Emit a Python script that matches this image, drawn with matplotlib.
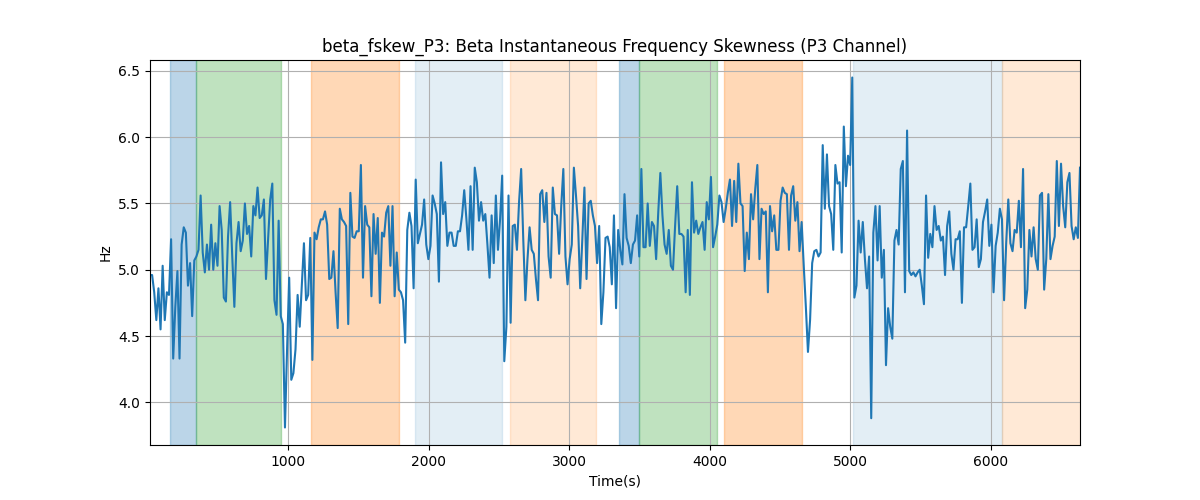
import numpy as np
import matplotlib
matplotlib.use('Agg')
import matplotlib.pyplot as plt

# sampled every 15 s
t_start = 18
t_step = 15

fskew = [
    # 0 - 850 s
    4.96, 4.96, 4.83, 4.62, 4.86, 4.55, 5.03, 4.62, 4.83, 4.81, 5.23, 4.33, 4.72, 4.99, 4.33, 5.19,
    5.32, 5.28, 4.88, 5.05, 4.65, 5.07, 5.10, 5.15, 5.56, 5.13, 4.98, 5.19, 5.00, 5.34, 5.00, 5.20,
    5.03, 5.48, 5.30, 4.79, 4.76, 5.25, 5.51, 5.10, 4.72, 5.20, 5.36, 5.14, 5.22, 5.50, 5.27, 5.33,
    5.10, 5.48, 5.41, 5.62, 5.39, 5.41, 5.53, 4.93,
    # 850 - 1680 s
    5.23, 5.53, 5.65, 4.77, 4.66, 5.37, 4.65, 4.59, 3.81, 4.40, 4.94, 4.17, 4.22, 4.40, 4.81, 4.57,
    4.88, 5.20, 4.77, 4.81, 5.24, 4.32, 5.28, 5.23, 5.32, 5.38, 5.38, 5.44, 5.34, 4.93, 4.94, 5.14,
    4.83, 4.56, 5.46, 5.38, 5.36, 5.33, 4.59, 5.58, 5.25, 5.24, 5.29, 5.29, 5.79, 4.94, 5.48, 5.34,
    5.32, 4.80, 5.42, 5.12, 5.39, 4.75, 5.28, 5.25,
    # 1680 - 2510 s
    5.43, 5.48, 5.03, 5.48, 4.80, 5.13, 4.85, 4.83, 4.77, 4.45, 5.30, 5.43, 5.33, 4.86, 5.68, 5.20,
    5.27, 5.34, 5.53, 5.19, 5.08, 5.18, 5.56, 5.50, 5.42, 4.91, 5.81, 5.42, 5.51, 5.18, 5.28, 5.28,
    5.18, 5.18, 5.29, 5.29, 5.41, 5.60, 5.39, 5.15, 5.63, 5.15, 5.77, 5.66, 5.37, 5.51, 5.37, 5.42,
    5.19, 4.94, 5.41, 5.05, 5.56, 5.15, 5.38,
    # 2510 - 3340 s
    5.71, 4.31, 4.57, 5.56, 4.60, 5.33, 5.34, 5.15, 5.51, 5.76, 5.23, 4.77, 5.08, 5.32, 5.15, 5.12,
    4.93, 4.77, 5.57, 5.60, 5.36, 5.58, 5.10, 4.94, 5.62, 5.42, 5.41, 5.12, 5.48, 5.76, 5.10, 4.89,
    5.08, 5.19, 5.77, 5.56, 5.33, 4.86, 5.23, 5.62, 4.93, 5.50, 5.52, 5.41, 5.33, 5.05, 5.33, 4.59,
    4.83, 5.24, 5.25, 5.17, 4.89, 5.41, 4.71,
    # 3340 - 4170 s
    5.30, 5.15, 5.04, 5.57, 5.24, 5.18, 5.05, 5.19, 5.22, 5.41, 5.10, 5.76, 5.17, 5.17, 5.50, 5.18,
    5.36, 5.33, 5.08, 5.43, 5.73, 5.41, 5.19, 5.12, 5.30, 5.03, 5.00, 5.33, 5.63, 5.27, 5.27, 5.25,
    4.83, 5.30, 4.81, 5.66, 5.28, 5.37, 5.27, 5.32, 5.36, 5.15, 5.51, 5.38, 5.70, 5.17, 5.25, 5.34,
    5.56, 5.51, 5.36, 5.46, 5.58, 5.68, 5.33,
    # 4170 - 5000 s
    5.67, 5.36, 5.80, 5.50, 5.48, 4.99, 5.28, 5.08, 5.57, 5.38, 5.61, 5.79, 5.08, 5.46, 5.42, 5.44,
    4.83, 5.48, 5.29, 5.41, 5.15, 5.15, 5.52, 5.62, 5.58, 5.57, 5.15, 5.56, 5.63, 5.37, 5.51, 5.14,
    5.36, 5.03, 4.72, 4.38, 4.62, 5.05, 5.14, 5.15, 5.10, 5.13, 5.94, 5.46, 5.87, 5.48, 5.42, 5.15,
    5.79, 5.65, 5.66, 5.13, 6.08, 5.63, 5.86,
    # 5000 - 5830 s
    5.79, 6.45, 4.79, 4.88, 5.37, 5.13, 5.36, 5.08, 4.86, 5.10, 3.88, 5.28, 5.48, 5.07, 5.48, 4.94,
    5.15, 4.28, 4.71, 4.57, 4.48, 5.22, 5.30, 5.19, 5.76, 5.82, 4.83, 6.05, 4.99, 4.96, 4.98, 4.95,
    4.98, 5.00, 4.88, 4.74, 5.56, 5.09, 5.27, 5.17, 5.48, 5.30, 5.33, 5.22, 5.25, 4.96, 5.33, 5.44,
    5.12, 5.00, 5.23, 5.23, 5.29, 4.75, 5.32,
    # 5830 - end
    5.32, 5.48, 5.65, 5.15, 5.17, 5.38, 5.02, 5.08, 5.36, 5.44, 5.53, 5.18, 5.34, 4.83, 5.18, 5.28,
    5.46, 5.38, 4.77, 5.20, 5.53, 5.20, 5.14, 5.30, 5.28, 5.52, 5.17, 5.76, 4.71, 4.85, 5.30, 5.10,
    5.32, 5.08, 5.00, 5.56, 5.58, 4.85, 5.08, 5.57, 5.08, 5.18, 5.25, 5.82, 5.33, 5.80, 5.48, 5.32,
    5.66, 5.73, 5.33, 5.23, 5.32, 5.24, 5.77,
]

# shaded phases
phase_start = [162, 343, 1164, 1906, 2580, 3351, 3493, 4103, 5016, 6075]
phase_end = [343, 950, 1788, 2523, 3190, 3493, 4051, 4658, 6075, 6700]
phase_kind = ['a', 'b', 'c', 'd', 'e', 'a', 'b', 'c', 'd', 'e']

kind_style = {
    'a': ('tab:blue', 0.3),
    'b': ('tab:green', 0.3),
    'c': ('tab:orange', 0.3),
    'd': ('tab:blue', 0.12),
    'e': ('tab:orange', 0.17),
}

t = t_start + t_step * np.arange(len(fskew))

fig, ax = plt.subplots(figsize=(12, 5))
for s, e, k in zip(phase_start, phase_end, phase_kind):
    c, a = kind_style[k]
    ax.axvspan(s, e, color=c, alpha=a)
ax.plot(t, fskew, color='tab:blue', linewidth=1.5)
ax.set_xlim(t[0], t[-1])
ax.set_title('beta_fskew_P3: Beta Instantaneous Frequency Skewness (P3 Channel)')
ax.set_xlabel('Time(s)')
ax.set_ylabel('Hz')
ax.grid(True)

plt.savefig('out.png', dpi=100)
